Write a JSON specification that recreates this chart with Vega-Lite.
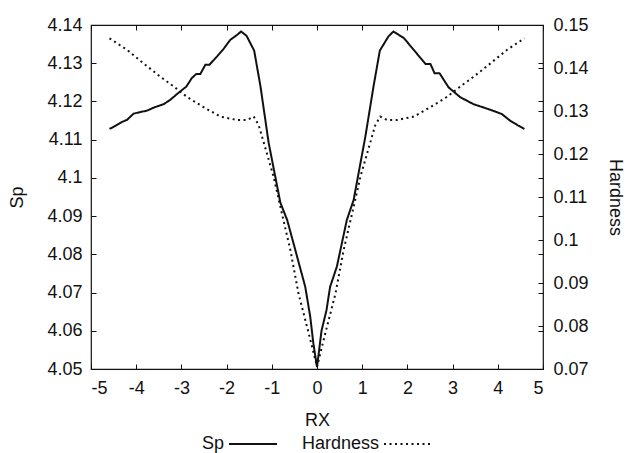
{
  "$schema": "https://vega.github.io/schema/vega-lite/v6.json",
  "autosize": "none",
  "width": 452,
  "height": 344,
  "padding": {"left": 91, "top": 25, "right": 83, "bottom": 84},
  "background": "white",
  "config": {
    "font": "Liberation Sans",
    "view": {"stroke": "#111", "strokeWidth": 1.2},
    "axis": {"labelFont": "Liberation Sans", "titleFont": "Liberation Sans", "labelFontSize": 18, "titleFontSize": 18, "titleFontWeight": "normal", "labelColor": "#111", "titleColor": "#111", "grid": false, "domain": false, "tickColor": "#111", "tickSize": -5, "tickWidth": 1, "labelExpr": "datum.value + ''"},
    "legend": {"labelFont": "Liberation Sans", "labelFontSize": 18, "labelColor": "#111"}
  },
  "datasets": {
    "sp": [
      {"rx": -4.59, "v": 4.1128}, {"rx": -4.45, "v": 4.1137}, {"rx": -4.32, "v": 4.1146}, {"rx": -4.2, "v": 4.1152},
      {"rx": -4.06, "v": 4.1168}, {"rx": -3.92, "v": 4.1172}, {"rx": -3.76, "v": 4.1176}, {"rx": -3.61, "v": 4.1184},
      {"rx": -3.39, "v": 4.1193}, {"rx": -3.25, "v": 4.1204}, {"rx": -3.06, "v": 4.1223}, {"rx": -2.89, "v": 4.1239},
      {"rx": -2.77, "v": 4.1261}, {"rx": -2.67, "v": 4.1272}, {"rx": -2.58, "v": 4.1272}, {"rx": -2.47, "v": 4.1296},
      {"rx": -2.38, "v": 4.1296}, {"rx": -2.21, "v": 4.1318}, {"rx": -2.07, "v": 4.1337}, {"rx": -1.92, "v": 4.1361},
      {"rx": -1.77, "v": 4.1374}, {"rx": -1.68, "v": 4.1383}, {"rx": -1.56, "v": 4.1372}, {"rx": -1.39, "v": 4.1333},
      {"rx": -1.25, "v": 4.1239}, {"rx": -1.07, "v": 4.1092}, {"rx": -0.81, "v": 4.0935}, {"rx": -0.66, "v": 4.089},
      {"rx": -0.52, "v": 4.0829}, {"rx": -0.26, "v": 4.0715}, {"rx": -0.15, "v": 4.0637}, {"rx": -0.08, "v": 4.0567},
      {"rx": 0, "v": 4.0505},
      {"rx": 0.1, "v": 4.06}, {"rx": 0.21, "v": 4.0654}, {"rx": 0.29, "v": 4.0715}, {"rx": 0.44, "v": 4.0768},
      {"rx": 0.66, "v": 4.089}, {"rx": 0.81, "v": 4.0942}, {"rx": 1.07, "v": 4.1108}, {"rx": 1.25, "v": 4.1239},
      {"rx": 1.39, "v": 4.1333}, {"rx": 1.58, "v": 4.137}, {"rx": 1.69, "v": 4.1383}, {"rx": 1.92, "v": 4.1366},
      {"rx": 2.14, "v": 4.1335}, {"rx": 2.4, "v": 4.1298}, {"rx": 2.51, "v": 4.1298}, {"rx": 2.6, "v": 4.1274},
      {"rx": 2.71, "v": 4.1274}, {"rx": 2.91, "v": 4.1237}, {"rx": 3.17, "v": 4.1211}, {"rx": 3.46, "v": 4.1193},
      {"rx": 3.69, "v": 4.1184}, {"rx": 3.91, "v": 4.1175}, {"rx": 4.09, "v": 4.1167}, {"rx": 4.28, "v": 4.1149},
      {"rx": 4.45, "v": 4.1137}, {"rx": 4.59, "v": 4.1128}
    ],
    "hard": [
      {"rx": -4.59, "v": 0.1469}, {"rx": -4.2, "v": 0.1442}, {"rx": -3.84, "v": 0.1411}, {"rx": -3.47, "v": 0.138},
      {"rx": -3.17, "v": 0.1357}, {"rx": -2.88, "v": 0.1333}, {"rx": -2.51, "v": 0.1309}, {"rx": -2.14, "v": 0.1287},
      {"rx": -1.77, "v": 0.1279}, {"rx": -1.55, "v": 0.1279}, {"rx": -1.4, "v": 0.1287}, {"rx": -1.29, "v": 0.1267},
      {"rx": -1.11, "v": 0.1202}, {"rx": -0.96, "v": 0.1147}, {"rx": -0.81, "v": 0.1077}, {"rx": -0.59, "v": 0.0977},
      {"rx": -0.41, "v": 0.0876}, {"rx": -0.22, "v": 0.0798}, {"rx": -0.11, "v": 0.0752}, {"rx": 0, "v": 0.0705},
      {"rx": 0.11, "v": 0.0752}, {"rx": 0.22, "v": 0.0798}, {"rx": 0.41, "v": 0.0876}, {"rx": 0.59, "v": 0.0977},
      {"rx": 0.81, "v": 0.1077}, {"rx": 0.96, "v": 0.1147}, {"rx": 1.11, "v": 0.1202}, {"rx": 1.29, "v": 0.1267},
      {"rx": 1.4, "v": 0.1287}, {"rx": 1.55, "v": 0.1279}, {"rx": 1.77, "v": 0.1279}, {"rx": 2.14, "v": 0.1287},
      {"rx": 2.51, "v": 0.1309}, {"rx": 2.88, "v": 0.1333}, {"rx": 3.17, "v": 0.1357}, {"rx": 3.47, "v": 0.138},
      {"rx": 3.84, "v": 0.1411}, {"rx": 4.2, "v": 0.1442}, {"rx": 4.59, "v": 0.1469}
    ]
  },
  "layer": [
    {
      "data": {"name": "sp"},
      "mark": {"type": "line", "color": "#111", "strokeWidth": 2},
      "encoding": {
        "x": {"field": "rx", "type": "quantitative", "scale": {"domain": [-5, 5], "nice": false, "zero": false},
              "axis": {"title": "RX", "values": [-5, -4, -3, -2, -1, 0, 1, 2, 3, 4, 5], "labelPadding": 15, "titlePadding": 14}},
        "y": {"field": "v", "type": "quantitative", "scale": {"domain": [4.05, 4.14], "nice": false, "zero": false},
              "axis": {"title": "Sp", "values": [4.05, 4.06, 4.07, 4.08, 4.09, 4.1, 4.11, 4.12, 4.13, 4.14], "labelPadding": 14, "titlePadding": 20}},
        "strokeDash": {"datum": "Sp", "type": "nominal",
              "scale": {"domain": ["Sp", "Hardness"], "range": [[1, 0], [2, 3.5]]},
              "legend": {"title": null, "orient": "none", "legendX": 137, "legendY": 394, "padding": 0, "direction": "horizontal", "symbolType": "stroke", "symbolSize": 2300, "symbolStrokeColor": "#111", "symbolStrokeWidth": 2, "labelAlign": "right", "labelOffset": -54, "columnPadding": 20}}
      }
    },
    {
      "data": {"name": "hard"},
      "mark": {"type": "line", "color": "#111", "strokeWidth": 2},
      "encoding": {
        "x": {"field": "rx", "type": "quantitative", "axis": {"orient": "top", "title": null, "labels": false, "values": [-5, -4, -3, -2, -1, 0, 1, 2, 3, 4, 5]}},
        "y": {"field": "v", "type": "quantitative", "scale": {"domain": [0.07, 0.15], "nice": false, "zero": false},
              "axis": {"orient": "right", "title": "Hardness", "values": [0.07, 0.08, 0.09, 0.1, 0.11, 0.12, 0.13, 0.14, 0.15], "labelPadding": 15, "titlePadding": 17}},
        "strokeDash": {"datum": "Hardness", "type": "nominal"}
      }
    },
    {
      "data": {"name": "sp"},
      "mark": {"type": "line", "opacity": 0},
      "encoding": {
        "x": {"field": "rx", "type": "quantitative", "axis": null},
        "y": {"field": "v", "type": "quantitative", "scale": {"domain": [4.05, 4.14], "nice": false, "zero": false},
              "axis": {"orient": "right", "title": null, "labels": false, "values": [4.05, 4.06, 4.07, 4.08, 4.09, 4.1, 4.11, 4.12, 4.13, 4.14]}}
      }
    }
  ],
  "resolve": {"scale": {"y": "independent"}, "axis": {"x": "independent"}}
}
